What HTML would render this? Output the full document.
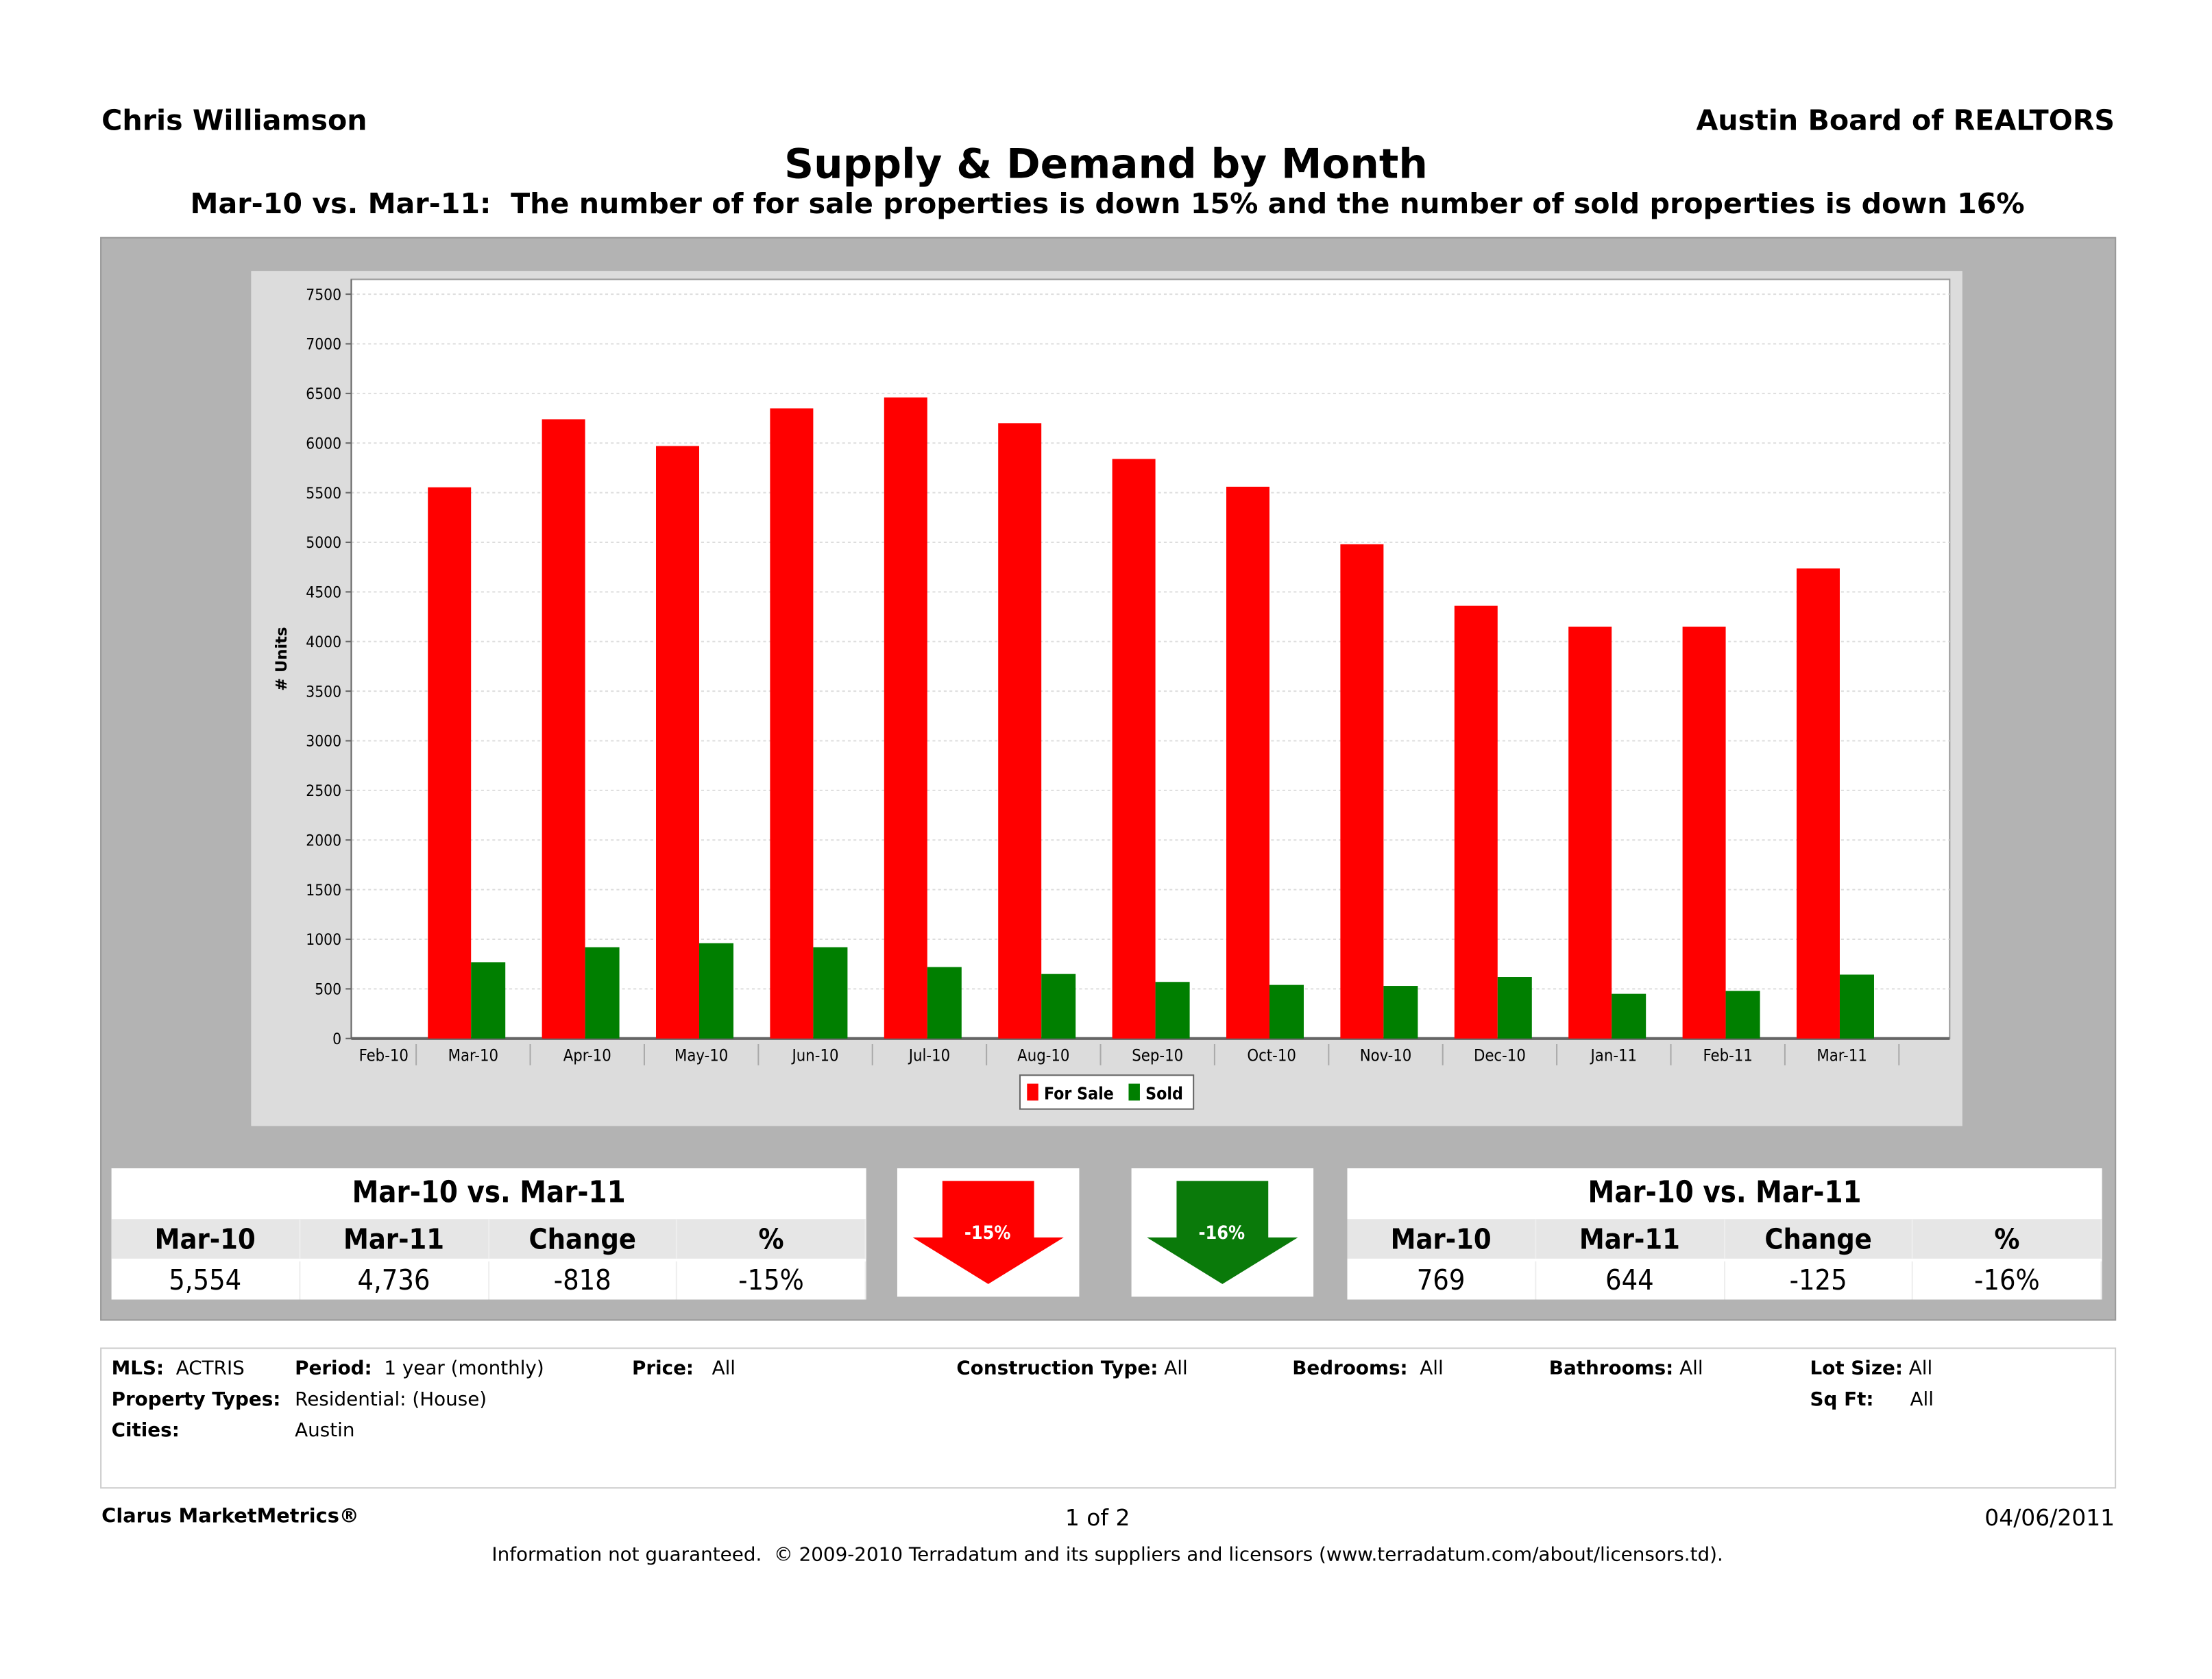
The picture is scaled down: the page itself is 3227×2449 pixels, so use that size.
<!DOCTYPE html>
<html><head><meta charset="utf-8">
<style>
html,body{margin:0;padding:0;background:#fff;}
body{width:3227px;height:2448px;overflow:hidden;position:relative;}
#wrap{position:absolute;left:0;top:0;width:1568px;height:1190px;transform:scale(2.0581);transform-origin:0 0;font-family:"DejaVu Sans","Liberation Sans",sans-serif;color:#000;}
.a{position:absolute;white-space:nowrap;}
.tbl{position:absolute;background:#fff;}
.tbl .t{position:absolute;left:0;right:0;top:0;height:34px;line-height:34px;text-align:center;font-size:21px;font-weight:bold;font-family:"DejaVu Sans Condensed","DejaVu Sans",sans-serif;}
.row{position:absolute;left:0;right:0;display:flex;}
.row div{flex:1;text-align:center;font-family:"DejaVu Sans Condensed","DejaVu Sans",sans-serif;border-right:1px solid #eee;}
.hdr{top:36px;height:28px;background:#e6e6e6;}
.hdr div{font-size:20px;font-weight:bold;line-height:28px;}
.val{top:66px;height:27px;}
.val div{font-size:20px;line-height:27px;}
.info{font-size:13.5px;}
.info b{font-weight:bold;}
</style></head><body>
<div id="wrap">
<div class="a" style="left:72px;top:73px;font-size:20px;font-weight:bold;">Chris Williamson</div>
<div class="a" style="right:69px;top:73px;font-size:20px;font-weight:bold;">Austin Board of REALTORS</div>
<div class="a" style="left:0;width:1568px;text-align:center;top:99px;font-size:29px;font-weight:bold;">Supply &amp; Demand by Month</div>
<div class="a" style="left:0;width:1570px;text-align:center;top:132px;font-size:20px;font-weight:bold;">Mar-10 vs. Mar-11:&nbsp; The number of for sale properties is down 15% and the number of sold properties is down 16%</div>

<div class="a" style="left:71px;top:168px;width:1427px;height:766px;background:#b3b3b3;border:1px solid #999;"></div>
<div class="a" style="left:178px;top:192px;width:1213px;height:606px;background:#dcdcdc;"></div>

<svg class="a" id="chart" style="left:0;top:0;" width="1568" height="1190"></svg>

<div class="tbl" style="left:79px;top:828px;width:535px;height:93px;">
<div class="t">Mar-10 vs. Mar-11</div>
<div class="row hdr"><div>Mar-10</div><div>Mar-11</div><div>Change</div><div>%</div></div>
<div class="row val"><div>5,554</div><div>4,736</div><div>-818</div><div>-15%</div></div>
</div>
<div class="tbl" style="left:955px;top:828px;width:535px;height:93px;">
<div class="t">Mar-10 vs. Mar-11</div>
<div class="row hdr"><div>Mar-10</div><div>Mar-11</div><div>Change</div><div>%</div></div>
<div class="row val"><div>769</div><div>644</div><div>-125</div><div>-16%</div></div>
</div>
<svg class="a" style="left:636px;top:828px;background:#fff;" width="129" height="91">
<polygon points="32,9 97,9 97,49 118,49 64.5,82 11,49 32,49" fill="#f00"/>
<text x="64" y="50" font-size="13" font-weight="bold" fill="#fff" text-anchor="middle" font-family="DejaVu Sans Condensed,DejaVu Sans,sans-serif">-15%</text>
</svg>
<svg class="a" style="left:802px;top:828px;background:#fff;" width="129" height="91">
<polygon points="32,9 97,9 97,49 118,49 64.5,82 11,49 32,49" fill="#0a7a0a"/>
<text x="64" y="50" font-size="13" font-weight="bold" fill="#fff" text-anchor="middle" font-family="DejaVu Sans Condensed,DejaVu Sans,sans-serif">-16%</text>
</svg>

<div class="a" style="left:71px;top:955px;width:1427px;height:98px;border:1px solid #ccc;"></div>
<div class="a info" style="left:79px;top:962px;"><b>MLS:</b>&nbsp; ACTRIS</div>
<div class="a info" style="left:209px;top:962px;"><b>Period:</b>&nbsp; 1 year (monthly)</div>
<div class="a info" style="left:448px;top:962px;"><b>Price:</b>&nbsp;&nbsp; All</div>
<div class="a info" style="left:678px;top:962px;"><b>Construction Type:</b> All</div>
<div class="a info" style="left:916px;top:962px;"><b>Bedrooms:</b>&nbsp; All</div>
<div class="a info" style="left:1098px;top:962px;"><b>Bathrooms:</b> All</div>
<div class="a info" style="left:1283px;top:962px;"><b>Lot Size:</b> All</div>
<div class="a info" style="left:79px;top:984px;"><b>Property Types:</b></div>
<div class="a info" style="left:209px;top:984px;">Residential: (House)</div>
<div class="a info" style="left:1283px;top:984px;"><b>Sq Ft:</b>&nbsp;&nbsp;&nbsp;&nbsp;&nbsp; All</div>
<div class="a info" style="left:79px;top:1006px;"><b>Cities:</b></div>
<div class="a info" style="left:209px;top:1006px;">Austin</div>

<div class="a" style="left:72px;top:1067px;font-size:14px;font-weight:bold;">Clarus MarketMetrics®</div>
<div class="a" style="left:755px;top:1066px;font-size:16px;">1 of 2</div>
<div class="a" style="right:69px;top:1066px;font-size:16px;">04/06/2011</div>
<div class="a" style="left:0;width:1570px;text-align:center;top:1094px;font-size:13.5px;">Information not guaranteed.&nbsp; © 2009-2010 Terradatum and its suppliers and licensors (www.terradatum.com/about/licensors.td).</div>
</div>
<script>
const categories = ["Feb-10","Mar-10","Apr-10","May-10","Jun-10","Jul-10","Aug-10","Sep-10","Oct-10","Nov-10","Dec-10","Jan-11","Feb-11","Mar-11"];
const forSale = [null,5554,6240,5970,6350,6460,6200,5840,5560,4980,4360,4150,4150,4736];
const sold = [null,769,920,960,920,720,650,570,540,530,620,450,480,644];
const yTicks = [0,500,1000,1500,2000,2500,3000,3500,4000,4500,5000,5500,6000,6500,7000,7500];

const NS="http://www.w3.org/2000/svg";
const svg=document.getElementById('chart');
const PL=249,PR=1382,PT=198,PB=736;
const yZero=736,y7500=208.5;
function y(v){return yZero-(v/7500)*(yZero-y7500);}
const firstDiv=295,step=80.85;
function catStart(i){return i===0?PL:firstDiv+(i-1)*step;}
function mk(tag,attrs){const e=document.createElementNS(NS,tag);for(const k in attrs)e.setAttribute(k,attrs[k]);svg.appendChild(e);return e;}
const bg=mk('rect',{x:PL,y:PT,width:PR-PL,height:PB-PT,fill:'#fff',stroke:'#999','stroke-width':1});


yTicks.forEach(t=>{
  const g=mk('line',{x1:PL,x2:PR,y1:y(t),y2:y(t),stroke:'#ddd','stroke-dasharray':'2,2','stroke-width':1});
  
  
  mk('line',{x1:PL-4,x2:PL,y1:y(t),y2:y(t),stroke:'#666'});
  const tx=mk('text',{x:PL-7,y:y(t)+4,'font-size':11,'text-anchor':'end','font-family':'DejaVu Sans Condensed,DejaVu Sans,sans-serif'});
  tx.textContent=t;
  
  
});
mk('line',{x1:PL,x2:PL,y1:PT,y2:PB,stroke:'#666'});
mk('line',{x1:PL,x2:PR,y1:PB,y2:PB,stroke:'#666','stroke-width':2});
const yt=mk('text',{x:0,y:0,'font-size':11,'font-weight':'bold','text-anchor':'middle',transform:'translate(203,467) rotate(-90)','font-family':'DejaVu Sans,sans-serif'});
yt.textContent='# Units';


categories.forEach((c,i)=>{
  const s=catStart(i), e=i===0?firstDiv:s+step;
  const lab=mk('text',{x:i===0?272:(s+e)/2,y:752,'font-size':11.5,'text-anchor':'middle','font-family':'DejaVu Sans Condensed,DejaVu Sans,sans-serif'});
  lab.textContent=c;
  
  
  mk('line',{x1:e,x2:e,y1:740,y2:755,stroke:'#aaa'});
  if(forSale[i]!=null){
    const r=mk('rect',{x:s+8.3,y:y(forSale[i]),width:30.6,height:yZero-y(forSale[i]),fill:'#ff0000'});
    
    
  }
  if(sold[i]!=null){
    const g=mk('rect',{x:s+38.9,y:y(sold[i]),width:24.3,height:yZero-y(sold[i]),fill:'#007f00'});
    
    
  }
});
const lg=mk('rect',{x:723,y:762,width:123,height:24,fill:'#fff',stroke:'#666'});


mk('rect',{x:728,y:768,width:8,height:12,fill:'#f00'});
const l1=mk('text',{x:740,y:779,'font-size':12,'font-weight':'bold','font-family':'DejaVu Sans Condensed,DejaVu Sans,sans-serif'});l1.textContent='For Sale';


mk('rect',{x:800,y:768,width:8,height:12,fill:'#007f00'});
const l2=mk('text',{x:812,y:779,'font-size':12,'font-weight':'bold','font-family':'DejaVu Sans Condensed,DejaVu Sans,sans-serif'});l2.textContent='Sold';


</script>
</body></html>
